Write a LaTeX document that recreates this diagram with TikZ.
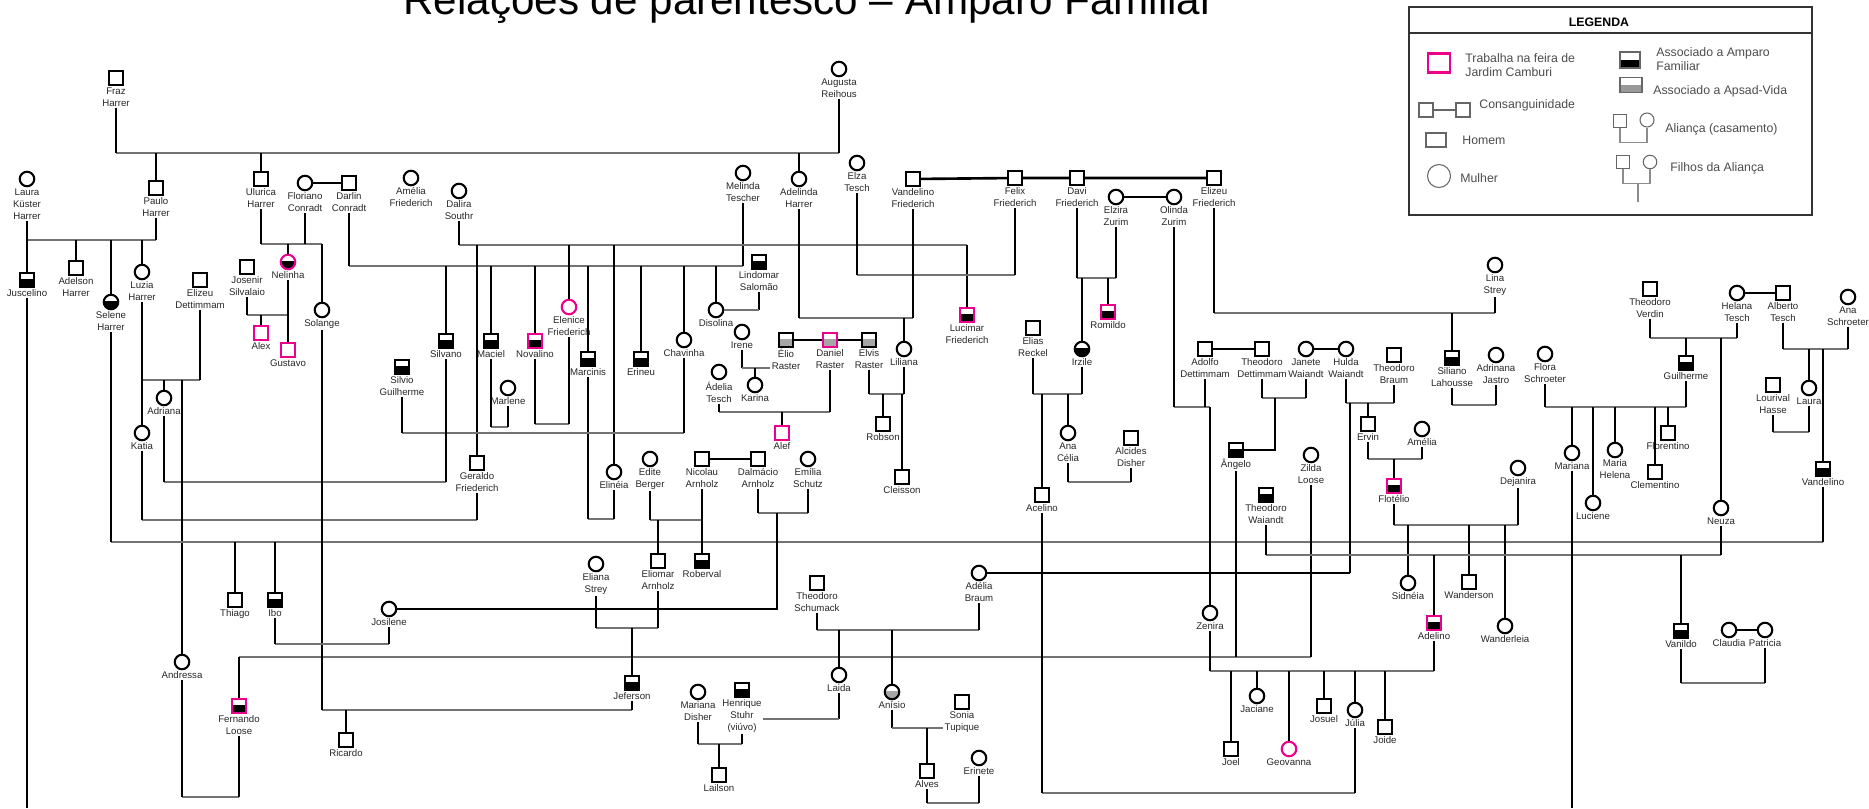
\documentclass[tikz,border=0pt]{standalone}
\usepackage{fontspec}
\setmainfont{Liberation Sans}
\definecolor{feira}{RGB}{236,0,140}

\begin{document}
\begin{tikzpicture}[x=0.02cm, y=-0.02cm,
    man/.style={draw, rectangle, minimum size=0.28cm, inner sep=0pt, line width=1.2pt},
    woman/.style={draw, circle, minimum size=0.29cm, inner sep=0pt, line width=1.2pt},
    amparo/.style={path picture={\fill[black] ([yshift=0.6pt]path picture bounding box.west) rectangle (path picture bounding box.south east);}},
    apsad/.style={path picture={\fill[black!35] ([yshift=0.6pt]path picture bounding box.west) rectangle (path picture bounding box.south east);}},
    feira/.style={draw=feira},
    nm/.style={font=\fontsize{5.5}{6.8}\selectfont, align=center, inner sep=0.6pt, text=black!85},
    lg/.style={font=\fontsize{7}{8.4}\selectfont, align=left, anchor=west, inner sep=0pt, text=black!70},
    vl/.style={line width=1.4pt},
    hl/.style={line width=1pt, black!55},
    kin/.style={line width=1.5pt},
    lgl/.style={line width=0.6pt, black!45}]

    \useasboundingbox (0,0) rectangle (1869,808);

    % --- Titulo ---
    \node[font=\fontsize{24}{28}\selectfont, anchor=base] (title) at (809,14) {Relações de parentesco – Amparo Familiar};

    % --- Legenda ---
    \draw[line width=0.8pt, black!80] (1409,7) rectangle (1812,215);
    \draw[line width=0.8pt, black!80] (1409,33) -- (1812,33);
    \node[font=\fontsize{7}{8}\selectfont\bfseries] (legenda) at (1599,22) {LEGENDA};
    \node[draw=feira, line width=1.2pt, minimum width=0.44cm, minimum height=0.38cm, inner sep=0pt] (lgFeira) at (1439,63) {};
    \node[lg] (lgFeiraT) at (1465,65) {Trabalha na feira de\\Jardim Camburi};
    \node[draw=black!60, line width=0.6pt, minimum size=0.28cm, inner sep=0pt] (lgC1) at (1426,110) {};
    \node[draw=black!60, line width=0.6pt, minimum size=0.28cm, inner sep=0pt] (lgC2) at (1463,110) {};
    \draw[line width=0.6pt, black!60] (lgC1) -- (lgC2);
    \node[lg] (lgCT) at (1479,105) {Consanguinidade};
    \node[draw=black!60, line width=0.6pt, minimum width=0.4cm, minimum height=0.28cm, inner sep=0pt] (lgH) at (1436,140) {};
    \node[lg] (lgHT) at (1462,140) {Homem};
    \node[draw=black!60, line width=0.6pt, circle, minimum size=0.46cm, inner sep=0pt] (lgM) at (1439,176) {};
    \node[lg] (lgMT) at (1460,178) {Mulher};
    \node[draw=black!60, line width=0.6pt, minimum width=0.4cm, minimum height=0.32cm, inner sep=0pt,
        path picture={\fill[black] (path picture bounding box.west) rectangle (path picture bounding box.south east);}] (lgA) at (1630,60) {};
    \node[lg] (lgAT) at (1656,59) {Associado a Amparo\\Familiar};
    \node[draw=black!60, line width=0.6pt, minimum width=0.44cm, minimum height=0.3cm, inner sep=0pt,
        path picture={\fill[black!40] (path picture bounding box.west) rectangle (path picture bounding box.south east);}] (lgV) at (1631,85) {};
    \node[lg] (lgVT) at (1653,91) {Associado a Apsad-Vida};
    \node[draw=black!60, line width=0.6pt, minimum size=0.26cm, inner sep=0pt] (lgAs) at (1620,121) {};
    \node[draw=black!60, line width=0.6pt, circle, minimum size=0.28cm, inner sep=0pt] (lgAc) at (1647,120) {};
    \draw[lgl] (lgAs.south) -- ++(0,14) -| (lgAc.south);
    \node[lg] (lgAT2) at (1665,129) {Aliança (casamento)};
    \node[draw=black!60, line width=0.6pt, minimum size=0.25cm, inner sep=0pt] (lgFs) at (1623,162) {};
    \node[draw=black!60, line width=0.6pt, circle, minimum size=0.27cm, inner sep=0pt] (lgFc) at (1650,162) {};
    \draw[lgl] (lgFs.south) -- ++(0,15) -| (lgFc.south);
    \coordinate (lgFj) at (1638,183);
    \draw[lgl] (lgFj) -- ++(0,19);
    \node[lg] (lgFT) at (1670,168) {Filhos da Aliança};

    % --- Pessoas ---
    \node[man, label={[nm,name=frazL]below:Fraz\\Harrer}] (fraz) at (116,78) {};
    \node[woman, label={[nm,name=augustaL]below:Augusta\\Reihous}] (augusta) at (839,69) {};
    \node[man, label={[nm,name=pauloL]below:Paulo\\Harrer}] (paulo) at (156,188) {};
    \node[man, label={[nm,name=uluricaL]below:Ulurica\\Harrer}] (ulurica) at (261,179) {};
    \node[woman, label={[nm,name=adelindaL]below:Adelinda\\Harrer}] (adelinda) at (799,179) {};
    \node[woman, label={[nm,name=lauraL]below:Laura\\Küster\\Harrer}] (laura) at (27,179) {};
    \node[woman, label={[nm,name=florianoL]below:Floriano\\Conradt}] (floriano) at (305,183) {};
    \node[man, label={[nm,name=darlinL]below:Darlin\\Conradt}] (darlin) at (349,183) {};
    \node[woman, label={[nm,name=ameliaFL]below:Amélia\\Friederich}] (ameliaF) at (411,178) {};
    \node[woman, label={[nm,name=daliraL]below:Dalira\\Southr}] (dalira) at (459,191) {};
    \node[woman, label={[nm,name=melindaL]below:Melinda\\Tescher}] (melinda) at (743,173) {};
    \node[woman, label={[nm,name=elzaL]below:Elza\\Tesch}] (elza) at (857,163) {};
    \node[man, label={[nm,name=vandelinoFL]below:Vandelino\\Friederich}] (vandelinoF) at (913,179) {};
    \node[man, label={[nm,name=felixL]below:Felix\\Friederich}] (felix) at (1015,178) {};
    \node[man, label={[nm,name=daviL]below:Davi\\Friederich}] (davi) at (1077,178) {};
    \node[woman, label={[nm,name=elziraL]below:Elzira\\Zurim}] (elzira) at (1116,197) {};
    \node[woman, label={[nm,name=olindaL]below:Olinda\\Zurim}] (olinda) at (1174,197) {};
    \node[man, label={[nm,name=elizeuL]below:Elizeu\\Friederich}] (elizeu) at (1214,178) {};

    \node[man, amparo, label={[nm,name=juscelinoL]below:Juscelino}] (juscelino) at (27,280) {};
    \node[man, label={[nm,name=adelsonL]below:Adelson\\Harrer}] (adelson) at (76,268) {};
    \node[woman, amparo, label={[nm,name=seleneL]below:Selene\\Harrer}] (selene) at (111,302) {};
    \node[woman, label={[nm,name=luziaL]below:Luzia\\Harrer}] (luzia) at (142,272) {};
    \node[man, label={[nm,name=elizeuDL]below:Elizeu\\Dettimmam}] (elizeuD) at (200,280) {};
    \node[man, label={[nm,name=josenirL]below:Josenir\\Silvalaio}] (josenir) at (247,267) {};
    \node[woman, amparo, feira, label={[nm,name=nelinhaL]below:Nelinha}] (nelinha) at (288,262) {};
    \node[man, feira, label={[nm,name=alexL]below:Alex}] (alex) at (261,333) {};
    \node[man, feira, label={[nm,name=gustavoL]below:Gustavo}] (gustavo) at (288,350) {};
    \node[woman, label={[nm,name=solangeL]below:Solange}] (solange) at (322,310) {};
    \node[man, amparo, label={[nm,name=silvanoL]below:Silvano}] (silvano) at (446,341) {};
    \node[man, amparo, label={[nm,name=silvioL]below:Silvio\\Guilherme}] (silvio) at (402,367) {};
    \node[man, amparo, label={[nm,name=macielL]below:Maciel}] (maciel) at (491,341) {};
    \node[woman, label={[nm,name=marleneL]below:Marlene}] (marlene) at (508,388) {};
    \node[man, amparo, feira, label={[nm,name=novalinoL]below:Novalino}] (novalino) at (535,341) {};
    \node[woman, feira, label={[nm,name=eleniceL]below:Elenice\\Friederich}] (elenice) at (569,307) {};
    \node[man, amparo, label={[nm,name=marcinisL]below:Marcinis}] (marcinis) at (588,359) {};
    \node[man, amparo, label={[nm,name=erineuL]below:Erineu}] (erineu) at (641,359) {};
    \node[woman, label={[nm,name=chavinhaL]below:Chavinha}] (chavinha) at (684,340) {};
    \node[man, amparo, label={[nm,name=lindomarL]below:Lindomar\\Salomão}] (lindomar) at (759,262) {};
    \node[woman, label={[nm,name=disolinaL]below:Disolina}] (disolina) at (716,310) {};
    \node[woman, label={[nm,name=ireneL]below:Irene}] (irene) at (742,332) {};
    \node[man, apsad, label={[nm,name=elioL]below:Élio\\Raster}] (elio) at (786,340) {};
    \node[man, apsad, feira, label={[nm,name=danielL]below:Daniel\\Raster}] (daniel) at (830,340) {};
    \node[man, apsad, label={[nm,name=elvisL]below:Elvis\\Raster}] (elvis) at (869,340) {};
    \node[woman, label={[nm,name=lilianaL]below:Liliana}] (liliana) at (904,349) {};
    \node[woman, label={[nm,name=karinaL]below:Karina}] (karina) at (755,385) {};
    \node[woman, label={[nm,name=adeliaTL]below:Ádelia\\Tesch}] (adeliaT) at (719,372) {};
    \node[man, feira, label={[nm,name=alefL]below:Alef}] (alef) at (782,433) {};
    \node[man, label={[nm,name=robsonL]below:Robson}] (robson) at (883,424) {};
    \node[man, label={[nm,name=cleissonL]below:Cleisson}] (cleisson) at (902,477) {};
    \node[man, amparo, feira, label={[nm,name=lucimarL]below:Lucimar\\Friederich}] (lucimar) at (967,315) {};
    \node[man, amparo, feira, label={[nm,name=romildoL]below:Romildo}] (romildo) at (1108,312) {};
    \node[woman, amparo, label={[nm,name=irzileL]below:Irzile}] (irzile) at (1082,349) {};
    \node[man, label={[nm,name=eliasL]below:Elias\\Reckel}] (elias) at (1033,328) {};
    \node[woman, label={[nm,name=anaceliaL]below:Ana\\Célia}] (anacelia) at (1068,433) {};
    \node[man, label={[nm,name=alcidesL]below:Alcides\\Disher}] (alcides) at (1131,438) {};
    \node[man, label={[nm,name=acelinoL]below:Acelino}] (acelino) at (1042,495) {};
    \node[man, label={[nm,name=adolfoL]below:Adolfo\\Dettimmam}] (adolfo) at (1205,349) {};
    \node[man, label={[nm,name=theodoroDL]below:Theodoro\\Dettimmam}] (theodoroD) at (1262,349) {};
    \node[woman, label={[nm,name=janeteL]below:Janete\\Waiandt}] (janete) at (1306,349) {};
    \node[woman, label={[nm,name=huldaL]below:Hulda\\Waiandt}] (hulda) at (1346,349) {};
    \node[man, label={[nm,name=theodoroBL]below:Theodoro\\Braum}] (theodoroB) at (1394,355) {};
    \node[man, amparo, label={[nm,name=angeloL]below:Ângelo}] (angelo) at (1236,450) {};
    \node[woman, label={[nm,name=zildaL]below:Zilda\\Loose}] (zilda) at (1311,455) {};
    \node[man, amparo, label={[nm,name=theodoroWL]below:Theodoro\\Waiandt}] (theodoroW) at (1266,495) {};
    \node[man, label={[nm,name=ervinL]below:Ervin}] (ervin) at (1368,424) {};
    \node[woman, label={[nm,name=ameliaEL]below:Amélia}] (ameliaE) at (1422,429) {};
    \node[man, amparo, feira, label={[nm,name=flotelioL]below:Flotélio}] (flotelio) at (1394,486) {};
    \node[woman, label={[nm,name=dejaniraL]below:Dejanira}] (dejanira) at (1518,468) {};
    \node[woman, label={[nm,name=linaL]below:Lina\\Strey}] (lina) at (1495,265) {};
    \node[man, amparo, label={[nm,name=silianoL]below:Siliano\\Lahousse}] (siliano) at (1452,358) {};
    \node[woman, label={[nm,name=adrinanaL]below:Adrinana\\Jastro}] (adrinana) at (1496,355) {};
    \node[woman, label={[nm,name=floraL]below:Flora\\Schroeter}] (flora) at (1545,354) {};
    \node[man, label={[nm,name=theodoroVL]below:Theodoro\\Verdin}] (theodoroV) at (1650,289) {};
    \node[woman, label={[nm,name=helanaL]below:Helana\\Tesch}] (helana) at (1737,293) {};
    \node[man, label={[nm,name=albertoL]below:Alberto\\Tesch}] (alberto) at (1783,293) {};
    \node[woman, label={[nm,name=anaSL]below:Ana\\Schroeter}] (anaS) at (1848,297) {};
    \node[man, amparo, label={[nm,name=guilhermeL]below:Guilherme}] (guilherme) at (1686,363) {};
    \node[woman, label={[nm,name=marianaL]below:Mariana}] (mariana) at (1572,453) {};
    \node[woman, label={[nm,name=lucieneL]below:Luciene}] (luciene) at (1593,503) {};
    \node[woman, label={[nm,name=mariaHL]below:Maria\\Helena}] (mariaH) at (1615,450) {};
    \node[man, label={[nm,name=florentinoL]below:Florentino}] (florentino) at (1668,433) {};
    \node[man, label={[nm,name=clementinoL]below:Clementino}] (clementino) at (1655,472) {};
    \node[man, label={[nm,name=lourivalL]below:Lourival\\Hasse}] (lourival) at (1773,385) {};
    \node[woman, label={[nm,name=lauraTL]below:Laura}] (lauraT) at (1809,388) {};
    \node[man, amparo, label={[nm,name=vandelinoL]below:Vandelino}] (vandelino) at (1823,469) {};
    \node[woman, label={[nm,name=neuzaL]below:Neuza}] (neuza) at (1721,508) {};

    \node[woman, label={[nm,name=katiaL]below:Katia}] (katia) at (142,433) {};
    \node[woman, label={[nm,name=adrianaL]below:Adriana}] (adriana) at (164,398) {};
    \node[man, label={[nm,name=geraldoL]below:Geraldo\\Friederich}] (geraldo) at (477,463) {};
    \node[woman, label={[nm,name=elineiaL]below:Elinéia}] (elineia) at (614,472) {};
    \node[woman, label={[nm,name=editeL]below:Edite\\Berger}] (edite) at (650,459) {};
    \node[man, label={[nm,name=nicolauL]below:Nicolau\\Arnholz}] (nicolau) at (702,459) {};
    \node[man, label={[nm,name=dalmacioL]below:Dalmácio\\Arnholz}] (dalmacio) at (758,459) {};
    \node[woman, label={[nm,name=emiliaL]below:Emília\\Schutz}] (emilia) at (808,459) {};
    \node[woman, label={[nm,name=elianaL]below:Eliana\\Strey}] (eliana) at (596,564) {};
    \node[man, label={[nm,name=eliomarL]below:Eliomar\\Arnholz}] (eliomar) at (658,561) {};
    \node[man, amparo, label={[nm,name=robervalL]below:Roberval}] (roberval) at (702,561) {};
    \node[man, label={[nm,name=thiagoL]below:Thiago}] (thiago) at (235,600) {};
    \node[man, amparo, label={[nm,name=iboL]below:Ibo}] (ibo) at (275,600) {};
    \node[woman, label={[nm,name=josileneL]below:Josilene}] (josilene) at (389,609) {};
    \node[woman, label={[nm,name=andressaL]below:Andressa}] (andressa) at (182,662) {};
    \node[man, amparo, feira, label={[nm,name=fernandoL]below:Fernando\\Loose}] (fernando) at (239,706) {};
    \node[man, label={[nm,name=ricardoL]below:Ricardo}] (ricardo) at (346,740) {};
    \node[man, amparo, label={[nm,name=jefersonL]below:Jeferson}] (jeferson) at (632,683) {};
    \node[man, label={[nm,name=theodoroSL]below:Theodoro\\Schumack}] (theodoroS) at (817,583) {};
    \node[woman, label={[nm,name=adeliaBL]below:Adélia\\Braum}] (adeliaB) at (979,573) {};
    \node[woman, label={[nm,name=laidaL]below:Laida}] (laida) at (839,675) {};
    \node[woman, apsad, label={[nm,name=anisioL]below:Anísio}] (anisio) at (892,692) {};
    \node[woman, label={[nm,name=marianaDL]below:Mariana\\Disher}] (marianaD) at (698,692) {};
    \node[man, amparo, label={[nm,name=henriqueL]below:Henrique\\Stuhr\\(viúvo)}] (henrique) at (742,690) {};
    \node[man, label={[nm,name=lailsonL]below:Lailson}] (lailson) at (719,775) {};
    \node[man, label={[nm,name=soniaL]below:Sonia\\Tupique}] (sonia) at (962,702) {};
    \node[man, label={[nm,name=alvesL]below:Alves}] (alves) at (927,771) {};
    \node[woman, label={[nm,name=erineteL]below:Erinete}] (erinete) at (979,758) {};
    \node[woman, label={[nm,name=zeniraL]below:Zenira}] (zenira) at (1210,613) {};
    \node[man, amparo, feira, label={[nm,name=adelinoL]below:Adelino}] (adelino) at (1434,623) {};
    \node[man, label={[nm,name=joelL]below:Joel}] (joel) at (1231,749) {};
    \node[woman, label={[nm,name=jacianeL]below:Jaciane}] (jaciane) at (1257,696) {};
    \node[woman, feira, label={[nm,name=geovannaL]below:Geovanna}] (geovanna) at (1289,749) {};
    \node[man, label={[nm,name=josuelL]below:Josuel}] (josuel) at (1324,706) {};
    \node[woman, label={[nm,name=juliaL]below:Júlia}] (julia) at (1355,710) {};
    \node[man, label={[nm,name=joideL]below:Joide}] (joide) at (1385,727) {};
    \node[woman, label={[nm,name=sidneiaL]below:Sidnéia}] (sidneia) at (1408,583) {};
    \node[man, label={[nm,name=wandersonL]below:Wanderson}] (wanderson) at (1469,582) {};
    \node[woman, label={[nm,name=wanderleiaL]below:Wanderleia}] (wanderleia) at (1505,626) {};
    \node[man, amparo, label={[nm,name=vanildoL]below:Vanildo}] (vanildo) at (1681,631) {};
    \node[woman, label={[nm,name=claudiaL]below:Claudia}] (claudia) at (1729,630) {};
    \node[woman, label={[nm,name=patriciaL]below:Patricia}] (patricia) at (1765,630) {};

    % --- Consanguinidade ---
    \draw[kin] (floriano) -- (darlin);
    \draw[kin] (vandelinoF) -- (felix) -- (davi) -- (elizeu);
    \draw[kin] (elzira) -- (olinda);
    \draw[kin] (elio) -- (daniel) -- (elvis);
    \draw[kin] (nicolau) -- (dalmacio);
    \draw[kin] (adolfo) -- (theodoroD);
    \draw[kin] (janete) -- (hulda);
    \draw[kin] (helana) -- (alberto);
    \draw[kin] (claudia) -- (patricia);

    % --- Aliancas e filhos ---
    % Fraz + Augusta
    \draw[hl] (frazL.south |- 0,153) -- (augustaL.south |- 0,153);
    \foreach \p in {frazL,augustaL} \draw[vl] (\p.south) -- (\p.south |- 0,153);
    \foreach \k in {paulo,ulurica,adelinda} \draw[vl] (\k.north |- 0,153) -- (\k.north);
    % Laura + Paulo
    \draw[hl] (lauraL.south |- 0,240) -- (pauloL.south |- 0,240);
    \foreach \p in {lauraL,pauloL} \draw[vl] (\p.south) -- (\p.south |- 0,240);
    \foreach \k in {juscelino,adelson,selene,luzia} \draw[vl] (\k.north |- 0,240) -- (\k.north);
    % Ulurica + Floriano
    \draw[hl] (uluricaL.south |- 0,244) -- (solange.north |- 0,244);
    \foreach \p in {uluricaL,florianoL} \draw[vl] (\p.south) -- (\p.south |- 0,244);
    \foreach \k in {nelinha,solange} \draw[vl] (\k.north |- 0,244) -- (\k.north);
    % Josenir + Nelinha
    \draw[hl] (josenirL.south |- 0,315) -- (nelinhaL.south |- 0,315);
    \foreach \p in {josenirL,nelinhaL} \draw[vl] (\p.south) -- (\p.south |- 0,315);
    \foreach \k in {alex,gustavo} \draw[vl] (\k.north |- 0,315) -- (\k.north);
    % Darlin + Melinda
    \draw[hl] (darlinL.south |- 0,266) -- (melindaL.south |- 0,266);
    \foreach \p in {darlinL,melindaL} \draw[vl] (\p.south) -- (\p.south |- 0,266);
    \foreach \k in {silvano,maciel,novalino,marcinis,erineu,chavinha,disolina} \draw[vl] (\k.north |- 0,266) -- (\k.north);
    % Dalira
    \draw[hl] (daliraL.south |- 0,245) -- (lucimar.north |- 0,245);
    \draw[vl] (daliraL.south) -- (daliraL.south |- 0,245);
    \foreach \k in {geraldo,elenice,elineia,lucimar} \draw[vl] (\k.north |- 0,245) -- (\k.north);
    % Elza + Felix
    \draw[hl] (elzaL.south |- 0,275) -- (felixL.south |- 0,275);
    \foreach \p in {elzaL,felixL} \draw[vl] (\p.south) -- (\p.south |- 0,275);
    % Adelinda + Vandelino
    \draw[hl] (adelindaL.south |- 0,318) -- (vandelinoFL.south |- 0,318);
    \foreach \p in {adelindaL,vandelinoFL} \draw[vl] (\p.south) -- (\p.south |- 0,318);
    \draw[vl] (liliana.north |- 0,318) -- (liliana.north);
    % Lindomar + Disolina
    \draw[vl] (lindomarL.south) -- (lindomarL.south |- 0,310);
    \draw[hl] (lindomarL.south |- 0,310) -- (disolina.east);
    % Irene + Elio
    \draw[vl] (ireneL.south) -- (ireneL.south |- 0,368);
    \draw[hl] (ireneL.south |- 0,368) -- (elioL.west |- 0,368);
    \draw[vl] (karina.north |- 0,368) -- (karina.north);
    % Adelia + Daniel
    \draw[hl] (adeliaTL.south |- 0,412) -- (danielL.south |- 0,412);
    \foreach \p in {adeliaTL,danielL} \draw[vl] (\p.south) -- (\p.south |- 0,412);
    \draw[vl] (alef.north |- 0,412) -- (alef.north);
    % Elvis + Liliana
    \draw[hl] (elvisL.south |- 0,394) -- (lilianaL.south |- 0,394);
    \foreach \p in {elvisL,lilianaL} \draw[vl] (\p.south) -- (\p.south |- 0,394);
    \foreach \k in {robson,cleisson} \draw[vl] (\k.north |- 0,394) -- (\k.north);
    % casais sem filhos
    \draw[hl] (macielL.south |- 0,427) -- (marleneL.south |- 0,427);
    \foreach \p in {macielL,marleneL} \draw[vl] (\p.south) -- (\p.south |- 0,427);
    \draw[hl] (novalinoL.south |- 0,424) -- (eleniceL.south |- 0,424);
    \foreach \p in {novalinoL,eleniceL} \draw[vl] (\p.south) -- (\p.south |- 0,424);
    \draw[hl] (marcinisL.south |- 0,519) -- (elineiaL.south |- 0,519);
    \foreach \p in {marcinisL,elineiaL} \draw[vl] (\p.south) -- (\p.south |- 0,519);
    \draw[hl] (silvioL.south |- 0,433) -- (chavinhaL.south |- 0,433);
    \foreach \p in {silvioL,chavinhaL} \draw[vl] (\p.south) -- (\p.south |- 0,433);
    \draw[hl] (adrianaL.south |- 0,482) -- (silvanoL.south |- 0,482);
    \foreach \p in {adrianaL,silvanoL} \draw[vl] (\p.south) -- (\p.south |- 0,482);
    \draw[hl] (katiaL.south |- 0,520) -- (geraldoL.south |- 0,520);
    \foreach \p in {katiaL,geraldoL} \draw[vl] (\p.south) -- (\p.south |- 0,520);
    % Luzia + Elizeu
    \draw[hl] (luziaL.south |- 0,380) -- (elizeuDL.south |- 0,380);
    \foreach \p in {luziaL,elizeuDL} \draw[vl] (\p.south) -- (\p.south |- 0,380);
    \foreach \k in {katia,adriana,andressa} \draw[vl] (\k.north |- 0,380) -- (\k.north);
    % Selene + Vandelino
    \draw[hl] (seleneL.south |- 0,542) -- (vandelinoL.south |- 0,542);
    \foreach \p in {seleneL,vandelinoL} \draw[vl] (\p.south) -- (\p.south |- 0,542);
    \foreach \k in {thiago,ibo} \draw[vl] (\k.north |- 0,542) -- (\k.north);
    % Andressa + Fernando
    \draw[hl] (andressaL.south |- 0,797) -- (fernandoL.south |- 0,797);
    \foreach \p in {andressaL,fernandoL} \draw[vl] (\p.south) -- (\p.south |- 0,797);
    % Angelo + Zilda
    \draw[hl] (fernando.north |- 0,657) -- (zildaL.south |- 0,657);
    \foreach \p in {angeloL,zildaL} \draw[vl] (\p.south) -- (\p.south |- 0,657);
    \draw[vl] (fernando.north |- 0,657) -- (fernando.north);
    % Solange + Jeferson
    \draw[hl] (solangeL.south |- 0,710) -- (jefersonL.south |- 0,710);
    \foreach \p in {solangeL,jefersonL} \draw[vl] (\p.south) -- (\p.south |- 0,710);
    \draw[vl] (ricardo.north |- 0,710) -- (ricardo.north);
    % Eliana + Eliomar
    \draw[hl] (elianaL.south |- 0,628) -- (eliomarL.south |- 0,628);
    \foreach \p in {elianaL,eliomarL} \draw[vl] (\p.south) -- (\p.south |- 0,628);
    \draw[vl] (jeferson.north |- 0,628) -- (jeferson.north);
    % Edite + Nicolau
    \draw[hl] (editeL.south |- 0,520) -- (nicolauL.south |- 0,520);
    \foreach \p in {editeL,nicolauL} \draw[vl] (\p.south) -- (\p.south |- 0,520);
    \foreach \k in {eliomar,roberval} \draw[vl] (\k.north |- 0,520) -- (\k.north);
    % Dalmacio + Emilia
    \draw[hl] (dalmacioL.south |- 0,513) -- (emiliaL.south |- 0,513);
    \foreach \p in {dalmacioL,emiliaL} \draw[vl] (\p.south) -- (\p.south |- 0,513);
    \coordinate (arnJ) at (777,513);
    \draw[kin] (josilene.east) -| (arnJ);
    % Ibo + Josilene
    \draw[hl] (iboL.south |- 0,644) -- (josileneL.south |- 0,644);
    \foreach \p in {iboL,josileneL} \draw[vl] (\p.south) -- (\p.south |- 0,644);
    % Theodoro Schumack + Adelia Braum
    \draw[hl] (theodoroSL.south |- 0,630) -- (adeliaBL.south |- 0,630);
    \foreach \p in {theodoroSL,adeliaBL} \draw[vl] (\p.south) -- (\p.south |- 0,630);
    \foreach \k in {laida,anisio} \draw[vl] (\k.north |- 0,630) -- (\k.north);
    % Mariana + Henrique
    \draw[hl] (marianaDL.south |- 0,744) -- (henriqueL.south |- 0,744);
    \foreach \p in {marianaDL,henriqueL} \draw[vl] (\p.south) -- (\p.south |- 0,744);
    \draw[vl] (lailson.north |- 0,744) -- (lailson.north);
    % Laida + Henrique
    \draw[vl] (laidaL.south) -- (laidaL.south |- 0,719);
    \draw[hl] (laidaL.south |- 0,719) -- (henriqueL.east |- 0,719);
    % Anisio + Sonia
    \draw[vl] (anisioL.south) -- (anisioL.south |- 0,728);
    \draw[hl] (anisioL.south |- 0,728) -- (soniaL.west |- 0,728);
    \draw[vl] (alves.north |- 0,728) -- (alves.north);
    % Alves + Erinete
    \draw[hl] (alvesL.south |- 0,803) -- (erineteL.south |- 0,803);
    \foreach \p in {alvesL,erineteL} \draw[vl] (\p.south) -- (\p.south |- 0,803);
    % Hulda + Theodoro Braum
    \draw[hl] (huldaL.south |- 0,403) -- (theodoroBL.south |- 0,403);
    \foreach \p in {huldaL,theodoroBL} \draw[vl] (\p.south) -- (\p.south |- 0,403);
    \draw[vl] (ervin.north |- 0,403) -- (ervin.north);
    \coordinate (braumJ) at (1350,403);
    \draw[vl] (braumJ) -- (braumJ |- adeliaB);
    \draw[kin] (braumJ |- adeliaB) -- (adeliaB.east);
    % Elias + Irzile
    \draw[hl] (eliasL.south |- 0,394) -- (irzileL.south |- 0,394);
    \foreach \p in {eliasL,irzileL} \draw[vl] (\p.south) -- (\p.south |- 0,394);
    \foreach \k in {acelino,anacelia} \draw[vl] (\k.north |- 0,394) -- (\k.north);
    % Ana Celia + Alcides
    \draw[hl] (anaceliaL.south |- 0,482) -- (alcidesL.south |- 0,482);
    \foreach \p in {anaceliaL,alcidesL} \draw[vl] (\p.south) -- (\p.south |- 0,482);
    % Acelino + Julia
    \draw[hl] (acelinoL.south |- 0,793) -- (juliaL.south |- 0,793);
    \foreach \p in {acelinoL,juliaL} \draw[vl] (\p.south) -- (\p.south |- 0,793);
    % Davi + Elzira
    \draw[hl] (daviL.south |- 0,278) -- (elziraL.south |- 0,278);
    \foreach \p in {daviL,elziraL} \draw[vl] (\p.south) -- (\p.south |- 0,278);
    \foreach \k in {irzile,romildo} \draw[vl] (\k.north |- 0,278) -- (\k.north);
    % Olinda + Adolfo
    \draw[hl] (olindaL.south |- 0,407) -- (zenira.north |- 0,407);
    \foreach \p in {olindaL,adolfoL} \draw[vl] (\p.south) -- (\p.south |- 0,407);
    \draw[vl] (zenira.north |- 0,407) -- (zenira.north);
    % Theodoro Dettimmam + Janete
    \draw[hl] (theodoroDL.south |- 0,398) -- (janeteL.south |- 0,398);
    \foreach \p in {theodoroDL,janeteL} \draw[vl] (\p.south) -- (\p.south |- 0,398);
    \coordinate (detJ) at (1275,398);
    \draw[vl] (detJ) |- (angelo.east);
    % Zenira + Adelino
    \draw[hl] (zeniraL.south |- 0,671) -- (adelinoL.south |- 0,671);
    \foreach \p in {zeniraL,adelinoL} \draw[vl] (\p.south) -- (\p.south |- 0,671);
    \foreach \k in {joel,jaciane,geovanna,josuel,julia,joide} \draw[vl] (\k.north |- 0,671) -- (\k.north);
    % Elizeu + Lina
    \draw[hl] (elizeuL.south |- 0,313) -- (linaL.south |- 0,313);
    \foreach \p in {elizeuL,linaL} \draw[vl] (\p.south) -- (\p.south |- 0,313);
    \draw[vl] (siliano.north |- 0,313) -- (siliano.north);
    % Siliano + Adrinana
    \draw[hl] (silianoL.south |- 0,405) -- (adrinanaL.south |- 0,405);
    \foreach \p in {silianoL,adrinanaL} \draw[vl] (\p.south) -- (\p.south |- 0,405);
    % Ervin + Amelia
    \draw[hl] (ervinL.south |- 0,459) -- (ameliaEL.south |- 0,459);
    \foreach \p in {ervinL,ameliaEL} \draw[vl] (\p.south) -- (\p.south |- 0,459);
    \draw[vl] (flotelio.north |- 0,459) -- (flotelio.north);
    % Flotelio + Dejanira
    \draw[hl] (flotelioL.south |- 0,525) -- (dejaniraL.south |- 0,525);
    \foreach \p in {flotelioL,dejaniraL} \draw[vl] (\p.south) -- (\p.south |- 0,525);
    \foreach \k in {sidneia,wanderson,wanderleia} \draw[vl] (\k.north |- 0,525) -- (\k.north);
    % Theodoro Waiandt + Neuza
    \draw[hl] (theodoroWL.south |- 0,555) -- (neuzaL.south |- 0,555);
    \foreach \p in {theodoroWL,neuzaL} \draw[vl] (\p.south) -- (\p.south |- 0,555);
    \foreach \k in {adelino,vanildo} \draw[vl] (\k.north |- 0,555) -- (\k.north);
    % Theodoro Verdin + Helana
    \draw[hl] (theodoroVL.south |- 0,338) -- (helanaL.south |- 0,338);
    \foreach \p in {theodoroVL,helanaL} \draw[vl] (\p.south) -- (\p.south |- 0,338);
    \foreach \k in {guilherme,neuza} \draw[vl] (\k.north |- 0,338) -- (\k.north);
    % Flora + Guilherme
    \draw[hl] (floraL.south |- 0,407) -- (guilhermeL.south |- 0,407);
    \foreach \p in {floraL,guilhermeL} \draw[vl] (\p.south) -- (\p.south |- 0,407);
    \foreach \k in {mariana,luciene,mariaH,clementino,florentino} \draw[vl] (\k.north |- 0,407) -- (\k.north);
    % Alberto + Ana
    \draw[hl] (albertoL.south |- 0,349) -- (anaSL.south |- 0,349);
    \foreach \p in {albertoL,anaSL} \draw[vl] (\p.south) -- (\p.south |- 0,349);
    \foreach \k in {lauraT,vandelino} \draw[vl] (\k.north |- 0,349) -- (\k.north);
    % Lourival + Laura
    \draw[hl] (lourivalL.south |- 0,432) -- (lauraTL.south |- 0,432);
    \foreach \p in {lourivalL,lauraTL} \draw[vl] (\p.south) -- (\p.south |- 0,432);
    % Vanildo + Patricia
    \draw[hl] (vanildoL.south |- 0,683) -- (patriciaL.south |- 0,683);
    \foreach \p in {vanildoL,patriciaL} \draw[vl] (\p.south) -- (\p.south |- 0,683);
    % linhas ate a borda
    \foreach \p in {juscelinoL,marianaL} \draw[vl] (\p.south) -- (\p.south |- 0,808);

\end{tikzpicture}
\end{document}
